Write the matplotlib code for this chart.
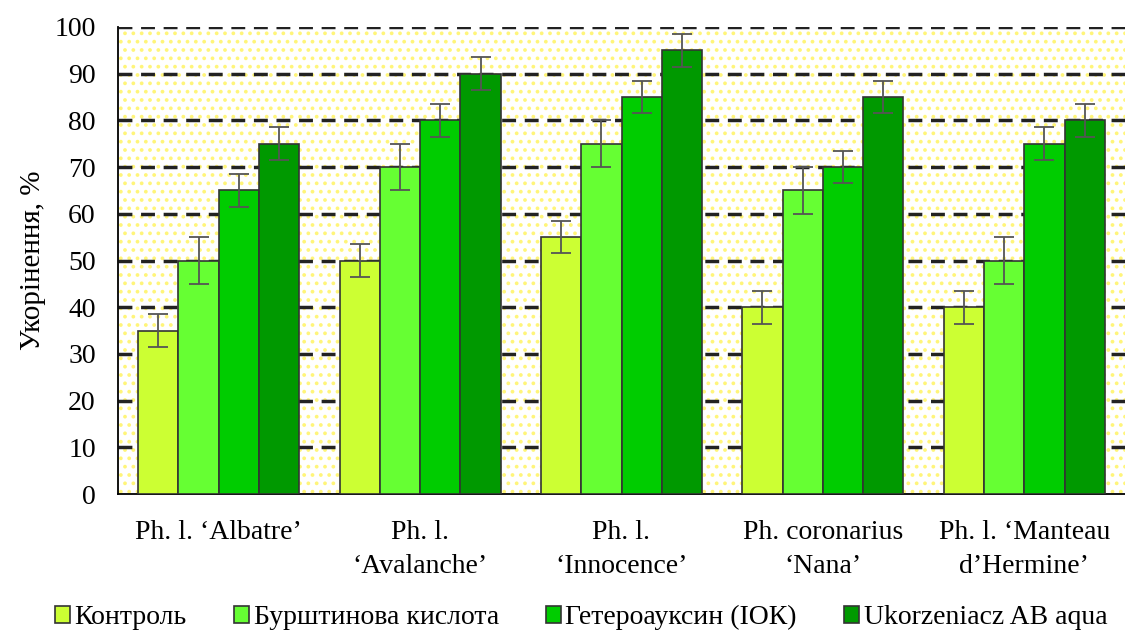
import numpy as np
import matplotlib.pyplot as plt

plt.rcParams['font.family'] = ['Liberation Serif', 'DejaVu Serif']

cultivars = ["Ph. l. \u2018Albatre\u2019", "Ph. l.\n\u2018Avalanche\u2019", "Ph. l.\n\u2018Innocence\u2019",
             "Ph. coronarius\n\u2018Nana\u2019", "Ph. l. \u2018Manteau\nd\u2019Hermine\u2019"]
treatments = ["Контроль", "Бурштинова кислота", "Гетероауксин (ІОК)", "Ukorzeniacz AB aqua"]
kontrol = [35, 50, 55, 40, 40]
burshtyn = [50, 70, 75, 65, 50]
ioc = [65, 80, 85, 70, 75]
ukorz = [75, 90, 95, 85, 80]
kontrol_err = [3.5, 3.5, 3.5, 3.5, 3.5]
burshtyn_err = [5, 5, 5, 5, 5]
ioc_err = [3.5, 3.5, 3.5, 3.5, 3.5]
ukorz_err = [3.5, 3.5, 3.5, 3.5, 3.5]

series = [kontrol, burshtyn, ioc, ukorz]
errors = [kontrol_err, burshtyn_err, ioc_err, ukorz_err]
colors = ['#CCFF33', '#66FF33', '#00CC00', '#009900']

fig = plt.figure(figsize=(11.25, 6.35), dpi=100)
ax = fig.add_axes([118/1125, 1 - 494/635, (1125 - 118)/1125, (494 - 27)/635])

# dotted yellow background
plt.rcParams['hatch.linewidth'] = 1.5
ax.add_patch(plt.Rectangle((0, 0), 1, 1, transform=ax.transAxes, facecolor='white',
                           edgecolor='#FFF57A', hatch='..', linewidth=0, zorder=0))

x = np.arange(len(cultivars))
w = 0.2
for i, (vals, err, c, lab) in enumerate(zip(series, errors, colors, treatments)):
    pos = x - 0.3 + i * w
    ax.bar(pos, vals, w, color=c, edgecolor='#333333', linewidth=1.2, label=lab, zorder=3)
    ax.errorbar(pos, vals, yerr=err, fmt='none', ecolor='#555555', elinewidth=1.3,
                capsize=7, capthick=1.3, zorder=4)

for yv in range(10, 101, 10):
    ax.axhline(yv, color='#222222', linestyle=(0, (4, 2.5)), linewidth=2.5, zorder=2)

ax.set_xlim(-0.5, len(cultivars) - 0.5)
ax.set_ylim(0, 100)
ax.set_yticks(range(0, 101, 10))
ax.set_xticks(x)
ax.set_xticklabels(cultivars, fontsize=20, linespacing=1.45)
ax.tick_params(axis='y', labelsize=20, length=0, pad=16)
ax.tick_params(axis='x', length=0, pad=19)
ax.set_ylabel('Укорінення, %', fontsize=21, labelpad=6)
for s in ['top', 'right']:
    ax.spines[s].set_visible(False)
ax.spines['left'].set_linewidth(1.3)
ax.spines['bottom'].set_linewidth(1.3)

ax.legend(loc='lower center', bbox_to_anchor=(0.46, -0.345), ncol=4, frameon=False,
          fontsize=20, handlelength=0.55, handleheight=0.55, handletextpad=0.15,
          columnspacing=1.7)

fig.savefig('out.png', dpi=100)
